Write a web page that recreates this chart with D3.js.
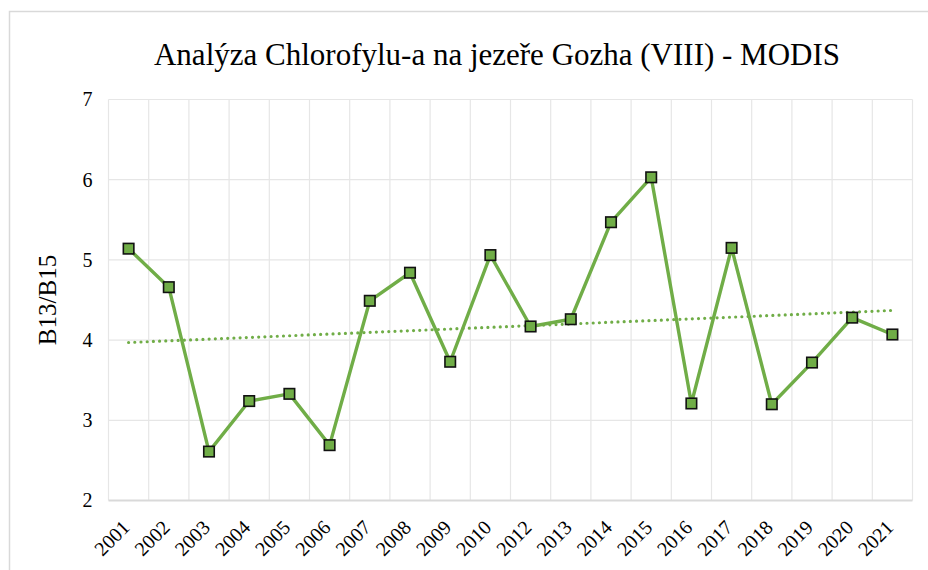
<!DOCTYPE html>
<html><head><meta charset="utf-8">
<script src="https://cdn.jsdelivr.net/npm/d3@7"></script>
<style>body{margin:0;background:#fff;} svg{display:block;} svg text{font-family:"Liberation Serif","Times New Roman",Times,"DejaVu Serif",serif;}</style>
</head><body>
<svg id="c" width="928" height="570"></svg>
<script>
const years = ["2001","2002","2003","2004","2005","2006","2007","2008","2009","2010","2012","2013","2014","2015","2016","2017","2018","2019","2020","2021"];
const values = [5.14,4.66,2.61,3.24,3.33,2.69,4.49,4.84,3.73,5.06,4.17,4.26,5.47,6.03,3.21,5.15,3.20,3.72,4.28,4.07];
const yTicks = [2,3,4,5,6,7];
const trendEnds = [3.97,4.37];
const title = "Analýza Chlorofylu-a na jezeře Gozha (VIII) - MODIS";
const yLabel = "B13/B15";

const svg = d3.select("#c");
const green = "#70ad47";
const m = {left:108.5, right:912.5, top:99.5, bottom:500.5};

svg.append("rect").attr("x",9.5).attr("y",11.5).attr("width",940).attr("height",600)
  .attr("fill","none").attr("stroke","#d9d9d9").attr("stroke-width",1.5);

const x = d3.scaleBand().domain(years).range([m.left,m.right]).padding(0);
const y = d3.scaleLinear().domain([2,7]).range([m.bottom,m.top]);

svg.append("g").selectAll("line").data(yTicks.filter(d=>d>2)).join("line")
  .attr("x1",m.left).attr("x2",m.right).attr("y1",d=>y(d)).attr("y2",d=>y(d))
  .attr("stroke","#e6e6e6").attr("stroke-width",1.2);
const bounds = years.map(d=>x(d)).concat([m.right]);
svg.append("g").selectAll("line").data(bounds).join("line")
  .attr("x1",d=>d).attr("x2",d=>d).attr("y1",m.top).attr("y2",m.bottom)
  .attr("stroke","#e6e6e6").attr("stroke-width",1.2);
svg.append("line").attr("x1",m.left).attr("x2",m.right).attr("y1",m.bottom).attr("y2",m.bottom)
  .attr("stroke","#d9d9d9").attr("stroke-width",1.8);

const yAxis = d3.axisLeft(y).tickValues(yTicks).tickFormat(d3.format("d")).tickSize(0).tickPadding(0);
const ya = svg.append("g").attr("transform",`translate(${m.left-16},0)`).call(yAxis);
ya.attr("font-family",null);
ya.select(".domain").remove();
ya.selectAll("text").attr("font-size",20).attr("fill","#000");

const xAxis = d3.axisBottom(x).tickSize(0).tickPadding(0);
const xa = svg.append("g").attr("transform",`translate(0,${m.bottom})`).call(xAxis);
xa.attr("font-family",null);
xa.select(".domain").remove();
xa.selectAll("text").attr("font-size",20).attr("fill","#000")
  .attr("text-anchor","end").attr("dy",null).attr("y",null)
  .attr("transform","translate(-1,25) rotate(-45)")
  .attr("dominant-baseline","middle");

const cx = d => x(d)+x.bandwidth()/2;
svg.append("line")
  .attr("x1",cx(years[0])).attr("y1",y(trendEnds[0]))
  .attr("x2",cx(years[years.length-1])).attr("y2",y(trendEnds[1]))
  .attr("stroke",green).attr("stroke-width",3.2).attr("stroke-linecap","round")
  .attr("stroke-dasharray","0,6.2");

const line = d3.line().x((d,i)=>cx(years[i])).y(d=>y(d));
svg.append("path").datum(values).attr("d",line).attr("fill","none")
  .attr("stroke",green).attr("stroke-width",3.4).attr("stroke-linejoin","round");

const s = 10.5;
svg.append("g").selectAll("rect").data(values).join("rect")
  .attr("x",(d,i)=>cx(years[i])-s/2).attr("y",d=>y(d)-s/2)
  .attr("width",s).attr("height",s)
  .attr("fill",green).attr("stroke","#111").attr("stroke-width",1.6);

svg.append("text").attr("x",497).attr("y",65).attr("text-anchor","middle")
  .attr("font-size",31).attr("fill","#000").text(title);

svg.append("text").attr("transform","translate(56,300) rotate(-90)")
  .attr("text-anchor","middle").attr("font-size",25)
  .attr("fill","#000").text(yLabel);
</script>
</body></html>
